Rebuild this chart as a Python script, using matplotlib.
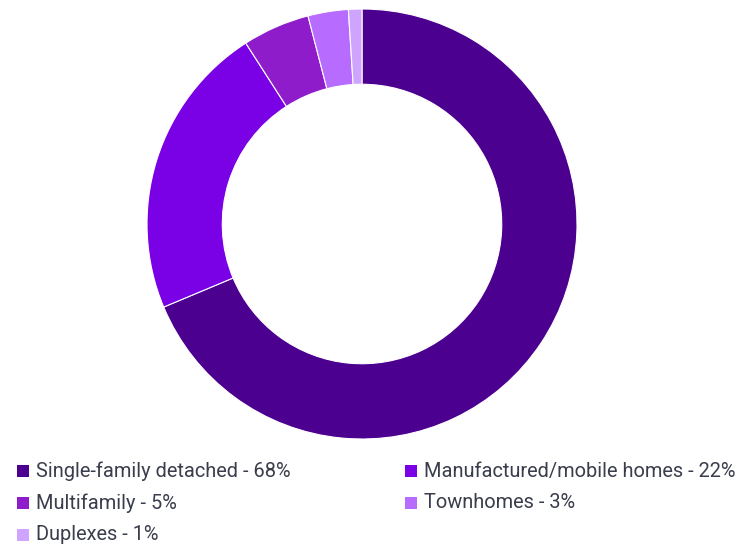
import matplotlib
matplotlib.use("Agg")
import matplotlib.pyplot as plt
from matplotlib.patches import Rectangle

labels = ["Single-family detached", "Manufactured/mobile homes", "Multifamily", "Townhomes", "Duplexes"]
values = [68, 22, 5, 3, 1]
colors = ["#4B0090", "#7A00E6", "#8E1CCB", "#B86BFF", "#CFA4FF"]

W, H = 746, 546
fig = plt.figure(figsize=(W / 100, H / 100), dpi=100)
cx, cy, r = 362, 224, 215
ax = fig.add_axes([(cx - r) / W, (H - cy - r) / H, 2 * r / W, 2 * r / H])
ax.pie(values, colors=colors, startangle=90, counterclock=False, radius=1,
       wedgeprops=dict(width=0.35, edgecolor="white", linewidth=0.8))
ax.set_xlim(-1, 1)
ax.set_ylim(-1, 1)
ax.set_aspect("equal")
ax.axis("off")

font = ["Roboto", "DejaVu Sans"]
rows_y = [471, 503, 535]
cols_x = [17, 405]
for i, (lab, v, c) in enumerate(zip(labels, values, colors)):
    row, col = divmod(i, 2)
    x0 = cols_x[col]
    y0 = rows_y[row]
    fig.patches.append(Rectangle((x0 / W, (H - y0 - 6) / H), 12 / W, 12 / H,
                                 transform=fig.transFigure, facecolor=c, edgecolor="none"))
    fig.text((x0 + 19) / W, (H - y0) / H, f"{lab} - {v}%", fontsize=14.4, family=font,
             color="#3a3e4c", va="center", ha="left")

fig.savefig("out.png", dpi=100)
